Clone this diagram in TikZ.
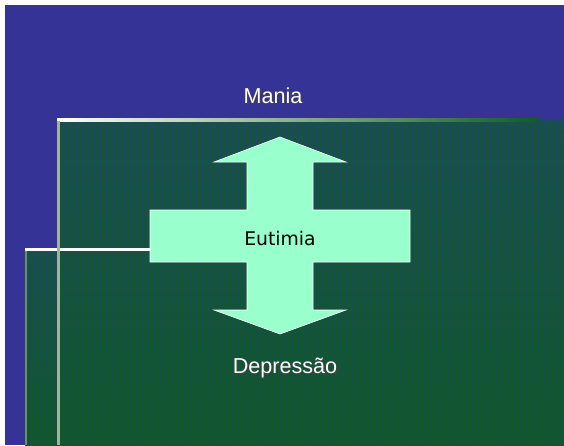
\documentclass[tikz,border=0pt]{standalone}
\usepackage{fontspec}
\setmainfont{Liberation Sans}
\newfontfamily\verdanalike{DejaVu Sans}
\definecolor{fundo}{RGB}{53,52,150}
\definecolor{verdeA}{RGB}{30,72,100}
\definecolor{verdeB}{RGB}{18,84,52}
\definecolor{malha}{RGB}{14,92,36}
\definecolor{menta}{RGB}{153,255,204}
\definecolor{bordaA}{RGB}{160,178,160}
\definecolor{bordaB}{RGB}{110,140,110}
\tikzset{
  rotulo/.style={text=white,font=\fontsize{21.6}{26}\selectfont},
  sombra/.style={text=black!75,font=\fontsize{21.6}{26}\selectfont},
}
\begin{document}
\begin{tikzpicture}[x=1pt,y=-1pt]
\useasboundingbox (0,0) rectangle (564,445);
\fill [white] (0,0) rectangle (564,445);
\fill [fundo] (5,5) rectangle (564,445);
% painel de tras
\shade [top color=verdeA,bottom color=verdeB] (25,248) rectangle (564,445);
\draw [malha,line width=0.7pt,step=3] (27,250) grid (564,445);
% painel da frente
\shade [top color=verdeA,bottom color=verdeB] (57,119) rectangle (564,445);
\draw [malha,line width=0.7pt,step=3] (60,121) grid (564,445);
\shade [left color=white,right color=malha] (57,118) rectangle (538,121);
\fill [white] (25,248) rectangle (150,251);
\fill [bordaB] (25,251) rectangle (27,445);
\fill [bordaA] (57,121) rectangle (60,445);
% cruz
\draw [white,fill=menta,line width=0.6pt] (280,137) -- (346,162) -- (313,162) -- (313,210)
  -- (410,210) -- (410,262) -- (313,262) -- (313,310) -- (346,310) -- (280,334)
  -- (214,310) -- (247,310) -- (247,262) -- (150,262) -- (150,210) -- (247,210)
  -- (247,162) -- (214,162) -- cycle;
\node (eutimia) at (280,238) {\verdanalike\fontsize{18.8}{22}\selectfont Eutimia};
\node [sombra] at (274.2,97.2) {Mania};
\node [rotulo] (mania) at (273,96) {Mania};
\node [sombra] at (286.2,369.2) {Depressão};
\node [rotulo] (depressao) at (285,368) {Depressão};
\end{tikzpicture}
\end{document}
